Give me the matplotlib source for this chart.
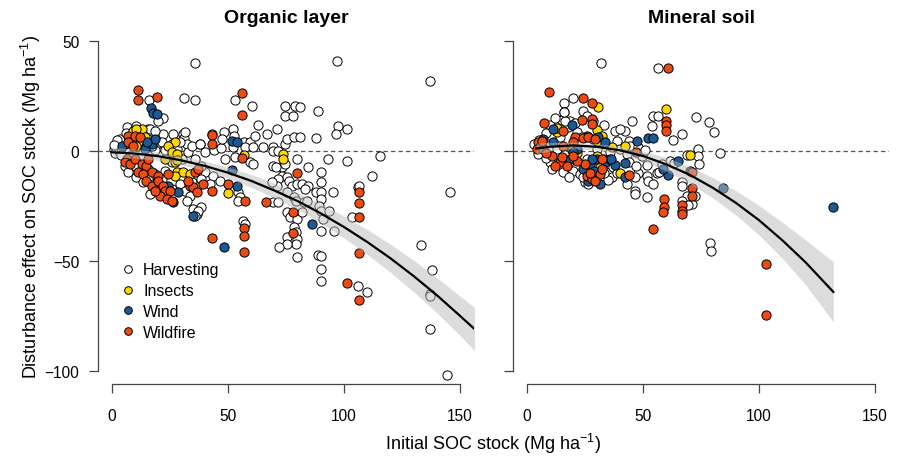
import numpy as np
import matplotlib
matplotlib.use('Agg')
import matplotlib.pyplot as plt
from matplotlib.lines import Line2D

plt.rcParams['font.family'] = ['Liberation Sans', 'DejaVu Sans']
plt.rcParams['mathtext.fontset'] = 'custom'
plt.rcParams['mathtext.rm'] = 'Liberation Sans'
plt.rcParams['mathtext.it'] = 'Liberation Sans:italic'

# ---- data (x = initial SOC stock, y = disturbance effect) ----
org_harvest = [
    (36, 40), (97, 41), (137, 32), (31, 24), (36, 23), (16, 23), (22, 15), (53, 23), (60.5, 20.3),
    (74.6, 20.4), (78.9, 20.4), (81, 20), (88.6, 18.3), (74.6, 15.8), (77.9, 15.8), (63, 12), (52, 10),
    (71, 10), (97.4, 11.5), (101.5, 10), (96.7, 7.7), (87.8, 5.8),
    (6.7, 10.8), (10.6, 11.5), (15.7, 10), (17.8, 7.7), (20, 13.8), (22.1, 7.7), (26.4, 7.7), (30.7, 7.7),
    (31.2, 5.8), (43, 7.7), (37.9, 3.2), (32.2, 3.2), (19.3, 3.2), (15.7, 5.5), (5.6, 3.2), (2.7, 1.7),
    (9.9, -6.7), (12.8, -9), (15.7, -8.2), (18.5, -10.5), (22.8, -9), (21.4, -12.7), (25.7, -17.3),
    (29.3, -15), (31.5, -18), (34.3, -14.2), (36.5, -16.5), (33.6, -20.3), (35, -26.4), (38.6, -25.6),
    (36.5, -28.6), (40.1, -9.7), (38.6, -12.7), (40.1, -0.6), (32.9, -0.6), (18.5, 0.2), (24.3, -3.6),
    (5.6, -6.7), (7, -9.7), (10.6, -12), (13.5, -14.2), (17.8, -15), (16.4, -19.5), (3.5, 5.5), (8.5, 7.7),
    (12.8, 8.5), (14.2, 4), (11.4, 5.5), (17.1, 2.4), (21.4, 4), (25.7, 3.2), (27.9, 0.9), (29.3, 4),
    (34.3, 2.4), (22.8, 0.2), (25.7, -5.2), (30, -3.6), (35.8, -3.6), (38.6, -6.7),
    (1, 1), (2, 3), (1.5, -1), (3, 0), (2, 5), (4, 1.5), (0.8, 2.5), (6, 8), (4, -2),
    (16.4, 10), (18.5, 9.2), (31.5, 8.5), (38, 3.2), (44, 0.5), (47, 1.5),
    (48.2, 8.5), (52.6, 7), (47.5, 5.5), (57, 3.9), (59.5, 3.9), (52.3, 1.8), (57.3, 1.8), (60.9, 1.8),
    (65.2, 1.8), (69.5, 1.8), (61.6, 7), (66.7, 7.7), (69.5, 0.1), (71.7, 0.1), (74.6, 3.2), (75.4, 5.5),
    (78.3, 6.2), (81, 6.2),
    (48.7, -3.6), (53, -2.9), (59.5, -5.1), (60.9, -5.9), (69.5, -6.7), (73.1, -7.4), (70.5, -7.4),
    (79.8, -3.6), (84.6, -7.1), (93, -3.6), (101.4, -4.4), (115.7, -2.1), (112.1, -11.2), (103.3, -30.2),
    (95.2, -18.5), (43.7, -11.2), (46.6, -13.5), (42.2, -15), (32.2, -22.6), (54.5, -18.8), (55.2, -21),
    (54.2, -22.6), (56.6, -31.7), (57.3, -33.2), (37.2, -27.1), (35.8, -29.4),
    (74.6, -5.9), (73.2, -11.2), (75.4, -12), (76.4, -13.5), (77.6, -15.8), (79.8, -15), (82, -15),
    (84.6, -15.8), (83.4, -17.3), (75.4, -18.8), (78.3, -21.1), (79.5, -22.6), (82.7, -23.3), (75.4, -27.9),
    (76.8, -30.2), (79.8, -30.9), (78.3, -34.7), (79.5, -37), (75.4, -39.2), (79.8, -40), (79.5, -42.3),
    (75.4, -42.3), (72, -43.8), (79.8, -48.3), (82, -27.9), (71.7, -12.7), (71, -15.8), (68.8, -14.3),
    (69.5, -23.3), (71.7, -23.3),
    (90, -14.3), (90.3, -9.7), (87.8, -18.8), (90, -18.8), (90, -21.8), (89.3, -24.9), (90, -27.1),
    (91.1, -30.9), (93.7, -27.1), (95.5, -36.2), (90, -36.2), (88.6, -47.3), (90.3, -47.6), (90.3, -53.6),
    (90.3, -59), (84.2, -22.6),
    (105.9, -16.5), (106.6, -15.8), (105.9, -61.2), (109.9, -64.2), (133, -42.7), (137.8, -54),
    (137.2, -65), (137.2, -66), (137.2, -81), (145.6, -18.5), (144.2, -101.8),
]
org_insects = [
    (9.2, 9.2), (12.8, 10), (10.3, 10), (27.1, 4), (24.3, 2.4), (25.7, -0.6), (27.1, -5.2), (27.9, -9.7),
    (30.7, -9.7), (22.8, -3.6), (11.4, 3.9), (14.2, 6.2), (8.5, 3.2), (10.6, 2.4), (27.9, -1.4),
    (27.9, -3.9), (27.2, -11.2), (33.6, -10.5), (50.1, -19.2), (56.9, -1.7), (73.8, -1.4), (73.8, -3.6),
]
org_wind = [
    (16.7, 19.5), (17.8, 17.3), (19.3, 16.8), (51.6, 4.7), (53.8, 4.2), (4.2, 2.4), (17.1, 3.2), (18.5, 5.5),
    (14.2, 0.9), (15, 4), (51.6, -8.6), (53.8, -15.8), (20.7, -17.3), (24.3, -15.8), (26.4, -23.3),
    (28.6, -18.8), (35, -29.4), (48.4, -43.5), (86.4, -33.2),
]
org_wildfire = [
    (11.4, 27.9), (11.4, 23.2), (19.5, 24.4), (56.2, 26.2), (56.2, 16.4), (43, 7.4), (43, 3.2), (7, 6.9),
    (9.9, 6.9), (12, 6.2), (7, 3.9), (9.2, 2.4), (6.3, -3.6), (5.6, -5.2), (7.8, -5.9), (9.9, -3.6),
    (12.8, -5.9), (14.9, -6.7), (15.7, -3.6), (11.4, -9.7), (13.5, -10.5), (17.1, -9.7), (20, -11.2),
    (19.3, -14.2), (14.9, -13.5), (17.1, -15.8), (20, -13.5), (22.1, -15.8), (22.8, -18), (24.9, -18),
    (20.7, -20.3), (23.6, -21.8), (25.7, -22.6), (18.5, -18), (33.6, -15.8), (35, -16.5), (32.9, -13.5),
    (35.8, -9.7), (36.5, -18.8), (39.4, -15), (43, -18.3), (50.1, -15), (24.3, -10.5), (36.9, -8.2),
    (57.3, -22.6), (66.2, -23), (43.1, -39.7), (57, -35), (57, -38.5), (57, -45.8), (78.2, -27.6),
    (78.2, -37.3), (79.6, -10), (106.5, -18.5), (106.5, -23.6), (106.5, -30.2), (106.5, -46.4),
    (101.3, -60), (106.5, -68), (56, -3),
]

min_harvest = [
    (31.8, 40), (56.6, 37.6), (20, 24), (15.9, 21.8), (15.9, 17.6), (14.9, 14.2), (18.5, 13.8), (20.7, 12.7),
    (28.6, 13.8), (37.9, 9.2), (42.2, 9.2), (38.6, 4.7), (44.1, 4.7), (45.1, 13.8), (54.5, 16.1),
    (56.6, 16.1), (53.7, 11.5), (63.1, 5.2), (66.7, 7.7), (72.7, 15.3), (78.6, 13), (80.7, 8.5),
    (73.9, 0.9), (83.2, -0.9), (73.9, -2.4), (74.2, -5.9), (68.8, -1.8), (61.6, -4.8), (58, -5.9),
    (55.9, -10), (51.6, -11.2), (52.3, -13.5), (54.5, -15), (48, -10), (46.6, -12), (42.9, -15),
    (46.6, -18), (46.6, -19.5), (51.6, -21), (36.5, -12), (35, -13), (25, -14.2), (26.4, -15),
    (66.7, -14.2), (66.7, -15.8), (68.8, -20.3), (66.7, -22.6), (71, -24), (72.4, -20.3), (78.9, -42),
    (79.5, -45.6),
    (6.3, 0.2), (6.3, 2.4), (4.9, -1.4), (14.2, 6.2), (17.8, 10.8), (16.4, 13.8), (21.4, 8.5), (23.6, 6.2),
    (28.6, 5.5), (30, 0.9), (25.7, -3.6), (21.4, -6.7), (20, -9), (32.9, -3.6), (35.8, -0.6), (40.1, 0.9),
    (35.8, -5.9), (30.7, -7.4), (27.1, -9), (22.8, -10.5), (15.7, -9.7), (9.9, -5.2), (12.8, 0.9),
    (37.2, -7.4), (42.9, -1.4), (44.3, 2.4), (48, 1.7), (49.4, -2.1), (50.8, 0.2),
    (51.6, -6.6), (56.8, -9.7), (63.4, -5.4), (69.2, -24.5),
    (16.1, 17.6), (10, 12), (12, 15), (24, 18), (26, 16), (33, 12), (40, 10), (8, -3), (11, -8), (18, -12),
    (24, -12), (29, -12.5), (33, -10), (39, -10), (44, -5), (47, -7), (3, 3), (5, 5), (8, 8),
]
min_insects = [
    (30.5, 20), (59.7, 19.2), (12.8, 8.6), (12.8, 10.6), (30.3, 9.5), (30, 4.7), (32.2, 6.7), (36.5, 2),
    (40.1, -10.1), (42.2, 2.4), (70.3, -1.8), (19.3, 0.6), (21.4, -0.9), (25.7, -7.4), (27.1, -11.2),
    (31.5, -7.4), (30, -2.1), (28.6, -8.9),
]
min_wind = [
    (11.1, 9.9), (19.3, 11.8), (25.7, 7), (30.7, 6.2), (33.6, 3.9), (47.2, 4.7), (52.2, 5.8), (54.2, 5.8),
    (30, -3.6), (33.6, -5.2), (35.8, -3.6), (37.9, -6.4), (42.2, -5.5), (27.1, -5.9), (26.4, -13.5),
    (31.5, -15), (42.2, -11.9), (60.9, -10.9), (65.2, -4.4), (70.3, -8.9), (84.6, -16.9), (21.4, 0.9),
    (18.5, -3.6), (11.4, 3.9), (7, 5.5), (19.9, -0.6), (27.9, -3.6), (36.4, -3.6), (58.7, -8.1),
    (131.9, -25.3), (24, -8), (29, -9),
]
min_wildfire = [
    (9.6, 26.7), (24, 24.1), (27.9, 21.6), (60.6, 37.7), (7.3, 12.7), (15.7, 9.2), (23.6, 14.2),
    (27.9, 14.5), (27.9, 12.3), (20.7, 6.2), (24, 5.8), (4.9, 3.9), (5.6, 1.7), (4.2, 0.9), (7, 0.9),
    (6.3, 4.7), (10.6, -2.1), (14.2, -5.2), (17.1, -6.7), (25.7, -11.2), (27.9, -12.7), (31.5, -10.5),
    (32.2, -8.2), (25, -5.9), (21.4, -4.4), (15.7, 2.4), (20, 3.9), (26.4, 6.2), (29.3, -13.5),
    (43.9, -10.9), (46.9, -0.3), (59.7, 13.5), (59.7, 11.8), (59.7, 9.1), (70.9, -16.9), (70.9, -20.3),
    (59.1, -21.8), (59.1, -25.6), (58.6, -27.9), (66.7, -24.8), (66.7, -27.1), (66.7, -28.9),
    (54.5, -35.7), (70.9, -9.4), (103.2, -51.6), (103.2, -74.4),
    (14.9, -2.9), (19.9, -2.1), (29.3, 5.5), (32.2, -3.6), (27.1, -10), (12, -7), (8, -1),
]

# fitted curves with confidence band
fit_x_org = [0, 10, 20, 30, 40, 50, 60, 70, 80, 90, 100, 110, 120, 130, 140, 150, 158]
fit_y_org = [-0.6, -1.2, -2.4, -4.3, -6.8, -9.9, -13.6, -18.0, -22.8, -28.4, -34.6, -41.4, -48.8,
             -56.9, -65.6, -75.0, -82.7]
fit_se_org = [2.2, 2.0, 1.9, 2.0, 2.2, 2.5, 2.9, 3.3, 3.8, 4.4, 5.0, 5.7, 6.4, 7.2, 8.0, 9.0, 10.0]

fit_x_min = [4, 10, 20, 30, 40, 50, 60, 70, 80, 90, 100, 110, 120, 132]
fit_y_min = [1.1, 1.9, 2.5, 1.9, 0.3, -2.3, -6.1, -10.8, -16.7, -23.6, -31.5, -40.6, -50.6, -64.1]
fit_se_min = [2.5, 1.9, 1.5, 1.5, 1.8, 2.3, 3.0, 3.8, 4.6, 5.6, 6.7, 8.2, 10.2, 13.7]

groups = ['Harvesting', 'Insects', 'Wind', 'Wildfire']
colors = ['white', '#FFD700', '#1D5A95', '#EE4B12']

panels = [
    ('Organic layer', [org_harvest, org_insects, org_wind, org_wildfire], fit_x_org, fit_y_org, fit_se_org),
    ('Mineral soil', [min_harvest, min_insects, min_wind, min_wildfire], fit_x_min, fit_y_min, fit_se_min),
]

fig = plt.figure(figsize=(8.98, 4.6), dpi=100)
axes = [fig.add_axes([0.1091, 0.163, 0.4187, 0.7744]),
        fig.add_axes([0.5713, 0.163, 0.4187, 0.7744])]

for i, (ax, (title, pts, fx, fy, fse)) in enumerate(zip(axes, panels)):
    ax.axhline(0, color='#555555', lw=0.9, ls=(0, (3.5, 2.5)), zorder=1)
    for data, c in zip(pts, colors):
        arr = np.array(data)
        ax.scatter(arr[:, 0], arr[:, 1], s=44, c=c, edgecolors='black', linewidths=0.7, zorder=2)
    fx = np.array(fx)
    fy = np.array(fy)
    fse = np.array(fse)
    ax.fill_between(fx, fy - fse, fy + fse, color='#BBBBBB', alpha=0.5, lw=0, zorder=3)
    ax.plot(fx, fy, color='black', lw=1.6, zorder=4)

    ax.set_xlim(-6, 156)
    ax.set_ylim(-106, 56)
    for s in ['top', 'right']:
        ax.spines[s].set_visible(False)
    ax.spines['left'].set_bounds(-100, 50)
    ax.spines['bottom'].set_bounds(0, 150)
    for s in ['left', 'bottom']:
        ax.spines[s].set_color('#444444')
        ax.spines[s].set_linewidth(0.9)
    ax.set_xticks([0, 50, 100, 150])
    ax.set_yticks([-100, -50, 0, 50])
    ax.tick_params(axis='both', direction='out', length=6.5, width=0.9, color='#444444',
                   labelsize=11.2)
    ax.tick_params(axis='x', pad=10.5)
    ax.tick_params(axis='y', pad=7)
    if i == 1:
        ax.tick_params(axis='y', labelleft=False)
    ax.set_title(title, fontsize=14, fontweight='bold', pad=4)

axes[0].set_ylabel(r'Disturbance effect on SOC stock (Mg ha$^{-1}$)', fontsize=13)
axes[0].yaxis.set_label_coords(-0.147, 0.5)
fig.text(0.549, 0.035, r'Initial SOC stock (Mg ha$^{-1}$)', fontsize=13, ha='center', va='center')

handles = [Line2D([], [], ls='none', marker='o', markersize=5.5, markerfacecolor=c,
                  markeredgecolor='black', markeredgewidth=0.7) for c in colors]
axes[0].legend(handles, groups, loc='upper left', bbox_to_anchor=(0.0585, 0.342), frameon=False,
               fontsize=11.5, handlelength=1.0, handletextpad=0.45, labelspacing=0.37,
               borderpad=0, borderaxespad=0)

fig.savefig('out.png', dpi=100)
